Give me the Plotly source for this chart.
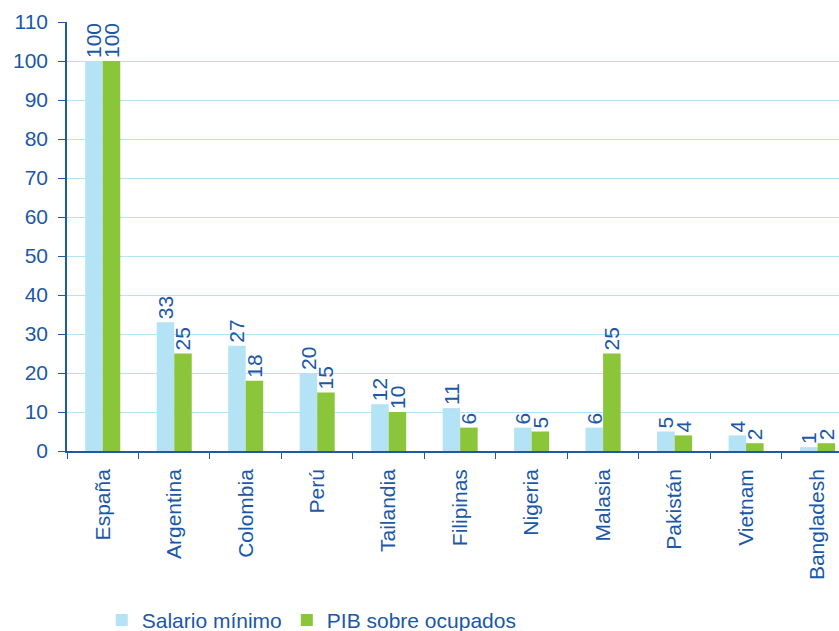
import plotly.graph_objects as go

paises = ["España", "Argentina", "Colombia", "Perú", "Tailandia", "Filipinas",
          "Nigeria", "Malasia", "Pakistán", "Vietnam", "Bangladesh"]
salario_minimo = [100, 33, 27, 20, 12, 11, 6, 6, 5, 4, 1]
pib_ocupados = [100, 25, 18, 15, 10, 6, 5, 25, 4, 2, 2]
y_ticks = [0, 10, 20, 30, 40, 50, 60, 70, 80, 90, 100, 110]

AZUL_TEXTO = "#1B58A8"
FUENTE = "Liberation Sans, Arial, sans-serif"
TAM = 21

fig = go.Figure()
fig.add_trace(go.Bar(
    x=paises, y=salario_minimo, name="Salario mínimo",
    marker=dict(color="#B5E3F6", line=dict(width=0)),
    text=salario_minimo, texttemplate="%{text}", textposition="outside",
    textangle=-90, constraintext="none",
    textfont=dict(size=TAM, color=AZUL_TEXTO, family=FUENTE),
    cliponaxis=False,
))
fig.add_trace(go.Bar(
    x=paises, y=pib_ocupados, name="PIB sobre ocupados",
    marker=dict(color="#8BC53A", line=dict(width=0)),
    text=pib_ocupados, texttemplate="%{text}", textposition="outside",
    textangle=-90, constraintext="none",
    textfont=dict(size=TAM, color=AZUL_TEXTO, family=FUENTE),
    cliponaxis=False,
))

fig.update_layout(
    width=839, height=631,
    margin=dict(l=67, r=0, t=22, b=180, autoexpand=False),
    paper_bgcolor="white", plot_bgcolor="white",
    barmode="group", bargap=0.51, bargroupgap=0,
    font=dict(family=FUENTE, color=AZUL_TEXTO, size=TAM),
    showlegend=True,
    legend=dict(
        orientation="h", x=0.045, xanchor="left", y=-0.395, yanchor="middle",
        font=dict(size=TAM, color=AZUL_TEXTO), itemwidth=30,
        bgcolor="rgba(0,0,0,0)",
    ),
)
fig.update_xaxes(
    range=[-0.5, 10.3], tickangle=-90, automargin=False,
    showline=True, linecolor="#1F5AA6", linewidth=1.5,
    ticks="outside", tickson="boundaries", ticklen=6, tickcolor="#1F5AA6",
    ticklabelstandoff=8,
    tickfont=dict(size=TAM, color=AZUL_TEXTO), showgrid=False,
)
fig.update_yaxes(
    range=[0, 110], tickvals=y_ticks, automargin=False,
    showline=True, linecolor="#1F5AA6", linewidth=1.5,
    ticks="outside", ticklen=7, tickcolor="#1F5AA6",
    ticklabelstandoff=6,
    tickfont=dict(size=TAM, color=AZUL_TEXTO),
    showgrid=True, gridcolor="#B3E5F7", gridwidth=1.2, zeroline=False,
)

fig.write_html("out.html")
